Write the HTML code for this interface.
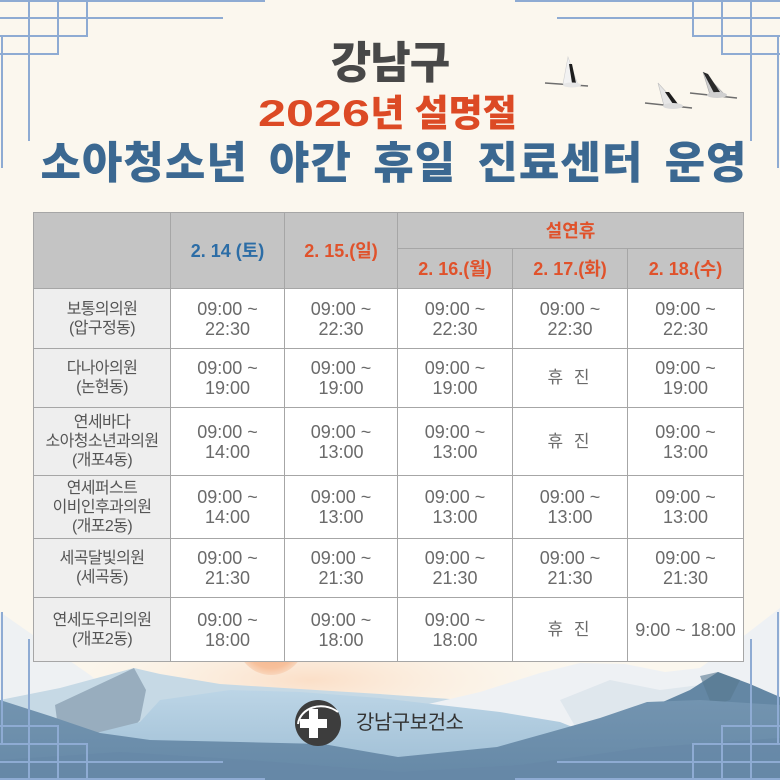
<!DOCTYPE html>
<html><head><meta charset="utf-8">
<style>
html,body{margin:0;padding:0;}
body{width:780px;height:780px;position:relative;overflow:hidden;background:#fbf7ee;font-family:"Liberation Sans","Noto Sans CJK KR",sans-serif;}
.abs{position:absolute;}
.t{position:absolute;line-height:1;white-space:nowrap;font-weight:900;}
table{position:absolute;left:33px;top:212px;width:711px;border-collapse:collapse;table-layout:fixed;z-index:2;}
td,th{border:1px solid #a6a6a6;padding:0;text-align:center;vertical-align:middle;}
th{background:#c4c4c4;font-size:18px;font-weight:bold;line-height:20px;}
td{background:#fff;font-size:18px;color:#6a6a6a;line-height:20px;}
td.n{background:#eeeeee;color:#555;font-size:16px;letter-spacing:-0.6px;line-height:19px;}
.b{color:#2c6da6;}
.r{color:#e0522b;}
.hj{letter-spacing:3px;font-size:17px;color:#6a6a6a;}
</style></head><body>

<svg class="abs" style="left:0;top:0;z-index:0" width="780" height="780" viewBox="0 0 780 780">
<defs>
<radialGradient id="glow" cx="0.5" cy="0.5" r="0.5">
<stop offset="0" stop-color="#fbdcc3" stop-opacity="0.9"/>
<stop offset="1" stop-color="#fbf7ee" stop-opacity="0"/>
</radialGradient>
<radialGradient id="sun" cx="0.5" cy="0.5" r="0.5">
<stop offset="0" stop-color="#f5ad82"/>
<stop offset="0.8" stop-color="#f7c09b"/>
<stop offset="1" stop-color="#f9d6bc"/>
</radialGradient>
<linearGradient id="midb" x1="0" y1="0" x2="0" y2="1">
<stop offset="0" stop-color="#bcd5e6"/>
<stop offset="1" stop-color="#9cbcd3"/>
</linearGradient>
<linearGradient id="dark" x1="0" y1="0" x2="0" y2="1">
<stop offset="0" stop-color="#7394b0"/>
<stop offset="1" stop-color="#6689a7"/>
</linearGradient>
</defs>
<rect width="780" height="780" fill="#fbf7ee"/>
<ellipse cx="310" cy="680" rx="300" ry="70" fill="url(#glow)"/>
<circle cx="271" cy="641" r="34" fill="url(#sun)"/>
<path d="M0,612 L40,640 L90,675 L120,700 L0,720 Z" fill="#eef1f3"/>
<path d="M0,700 L60,688 L134,668 L160,674 L220,684 L300,689 L380,694 L450,699 L480,705 L480,780 L0,780 Z" fill="#c6d9e5"/>
<path d="M55,705 L100,684 L134,668 L146,690 L140,720 L120,742 L60,742 Z" fill="#98adbe"/>
<path d="M420,706 L480,692 L540,673 L580,663 L625,664 L665,672 L700,668 L745,635 L780,608 L780,705 L700,712 L600,748 L420,748 Z" fill="#eef1f4"/>
<path d="M560,700 L610,680 L660,690 L700,685 L720,700 L640,730 L580,735 Z" fill="#dfe7ed"/>
<path d="M0,745 L60,742 L140,722 L160,700 L230,690 L300,692 L380,698 L440,705 L500,712 L560,722 L600,738 L620,780 L0,780 Z" fill="url(#midb)"/>
<path d="M520,780 L560,735 L640,712 L690,690 L718,672 L750,684 L780,697 L780,780 Z" fill="#6487a4"/>
<path d="M700,676 L718,672 L740,680 L730,700 L712,706 Z" fill="#56788f" opacity="0.6"/>
<path d="M0,700 L50,716 L100,733 L150,740 L240,742 L323,744 L398,757 L497,747 L547,733 L600,718 L647,702 L700,700 L780,705 L780,780 L0,780 Z" fill="url(#dark)"/>
<path d="M0,760 L120,752 L250,760 L400,772 L520,765 L640,748 L780,738 L780,780 L0,780 Z" fill="#6688a6" opacity="0.7"/>

<g>
<line x1="545" y1="83" x2="588" y2="86" stroke="#6e6e6e" stroke-width="1.5"/>
<polygon points="568,57 563,84 578,85" fill="#f2f2f2" stroke="#d0d0d0" stroke-width="0.6"/>
<polygon points="569,64 572,64 576,83 572,83" fill="#1e1e1e"/>
<ellipse cx="572" cy="85" rx="9" ry="2.5" fill="#e6e6e6"/>
</g>
<g>
<line x1="645" y1="103" x2="692" y2="108" stroke="#6e6e6e" stroke-width="1.5"/>
<polygon points="658,83 664,106 680,107" fill="#e6e6e6" stroke="#c0c0c0" stroke-width="0.6"/>
<polygon points="665,92 669,92 678,104 673,104" fill="#1e1e1e"/>
<ellipse cx="673" cy="106" rx="10" ry="3" fill="#dcdcdc"/>
</g>
<g>
<line x1="690" y1="93" x2="737" y2="98" stroke="#6e6e6e" stroke-width="1.5"/>
<polygon points="703,72 710,95 726,96" fill="#cfcfcf" stroke="#a8a8a8" stroke-width="0.6"/>
<polygon points="703,72 708,74 720,92 714,93" fill="#2a2a2a"/>
<ellipse cx="717" cy="95" rx="10" ry="3" fill="#d0d0d0"/>
</g>
</svg>

<div class="t" style="left:0;width:780px;text-align:center;top:42px;font-size:44px;letter-spacing:-1px;color:#484848;z-index:3">강남구</div>
<div class="t" style="left:258px;top:95px;font-size:37px;color:#dc4a25;z-index:3"><span style="display:inline-block;transform:scaleX(1.36);transform-origin:0 0;margin-right:30px">2026</span>년 설명절</div>
<div class="t" style="left:4px;width:780px;text-align:center;top:142px;font-size:44px;letter-spacing:1px;word-spacing:8px;color:#3b6891;z-index:3">소아청소년 야간 휴일 진료센터 운영</div>

<table>
<colgroup><col style="width:137px"><col style="width:114px"><col style="width:113px"><col style="width:115px"><col style="width:115px"><col style="width:116px"></colgroup>
<tr style="height:36px"><th rowspan="2"></th><th rowspan="2" class="b">2. 14 (토)</th><th rowspan="2" class="r">2. 15.(일)</th><th colspan="3" class="r">설연휴</th></tr>
<tr style="height:40px"><th class="r">2. 16.(월)</th><th class="r">2. 17.(화)</th><th class="r">2. 18.(수)</th></tr>
<tr style="height:60px"><td class="n">보통의의원<br>(압구정동)</td><td>09:00 ~<br>22:30</td><td>09:00 ~<br>22:30</td><td>09:00 ~<br>22:30</td><td>09:00 ~<br>22:30</td><td>09:00 ~<br>22:30</td></tr>
<tr style="height:59px"><td class="n">다나아의원<br>(논현동)</td><td>09:00 ~<br>19:00</td><td>09:00 ~<br>19:00</td><td>09:00 ~<br>19:00</td><td class="hj">휴 진</td><td>09:00 ~<br>19:00</td></tr>
<tr style="height:68px"><td class="n">연세바다<br>소아청소년과의원<br>(개포4동)</td><td>09:00 ~<br>14:00</td><td>09:00 ~<br>13:00</td><td>09:00 ~<br>13:00</td><td class="hj">휴 진</td><td>09:00 ~<br>13:00</td></tr>
<tr style="height:63px"><td class="n">연세퍼스트<br>이비인후과의원<br>(개포2동)</td><td>09:00 ~<br>14:00</td><td>09:00 ~<br>13:00</td><td>09:00 ~<br>13:00</td><td>09:00 ~<br>13:00</td><td>09:00 ~<br>13:00</td></tr>
<tr style="height:59px"><td class="n">세곡달빛의원<br>(세곡동)</td><td>09:00 ~<br>21:30</td><td>09:00 ~<br>21:30</td><td>09:00 ~<br>21:30</td><td>09:00 ~<br>21:30</td><td>09:00 ~<br>21:30</td></tr>
<tr style="height:64px"><td class="n">연세도우리의원<br>(개포2동)</td><td>09:00 ~<br>18:00</td><td>09:00 ~<br>18:00</td><td>09:00 ~<br>18:00</td><td class="hj">휴 진</td><td>9:00 ~ 18:00</td></tr>
</table>

<svg class="abs" style="left:290px;top:695px;z-index:3" width="60" height="56" viewBox="290 695 60 56">
<circle cx="318" cy="723" r="23" fill="#3d3d3d"/>
<rect x="309" y="709" width="9" height="29" fill="#fff"/>
<rect x="300" y="719" width="27" height="9" fill="#fff"/>
<path d="M298,724 C300,708 322,700 338,712" fill="none" stroke="#fff" stroke-width="2"/>
</svg>
<div class="abs" style="left:356px;top:710px;font-size:20px;line-height:26px;color:#333;white-space:nowrap;z-index:3;letter-spacing:-0.5px">강남구보건소</div>

<svg class="abs" style="left:0;top:0;z-index:4" width="780" height="780" viewBox="0 0 780 780">
<defs>
<g id="c" stroke="#8eabd3" stroke-width="2" fill="none">
<line x1="0" y1="1" x2="265" y2="1"/>
<line x1="0" y1="18" x2="223" y2="18"/>
<line x1="0" y1="36" x2="88" y2="36"/>
<line x1="0" y1="54" x2="59" y2="54"/>
<line x1="29" y1="0" x2="29" y2="141"/>
<line x1="58" y1="0" x2="58" y2="55"/>
<line x1="87" y1="0" x2="87" y2="37"/>
<line x1="2" y1="36" x2="2" y2="168"/>
</g>
</defs>
<use href="#c"/>
<use href="#c" transform="translate(780,0) scale(-1,1)"/>
<use href="#c" transform="translate(0,780) scale(1,-1)"/>
<use href="#c" transform="translate(780,780) scale(-1,-1)"/>
</svg>

</body></html>
